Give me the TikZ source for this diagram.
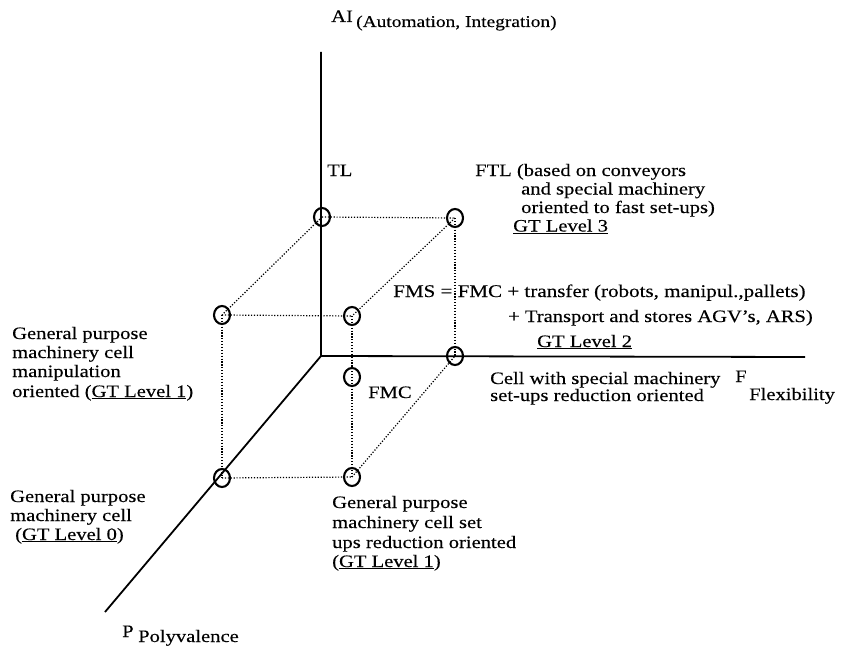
\documentclass[tikz,border=0pt]{standalone}
\usepackage{fontspec}
\setmainfont{Liberation Serif}[FakeStretch=1.18,FakeBold=0.25]
\usetikzlibrary{shapes.geometric}
\newcommand\fsz{\fontsize{17.5}{19.5}\selectfont}
\newcommand\fszbig{\fontsize{17.9}{20}\selectfont}
\begin{document}
\begin{tikzpicture}[x=1bp,y=-1bp,
  axis/.style={line width=1.8bp},
  dots/.style={line width=1.2bp, dash pattern=on 1.2bp off 1.7bp},
  ring/.style={draw, ellipse, minimum width=16bp, minimum height=18bp, line width=2.1bp, inner sep=0pt},
  lbl/.style={inner sep=0pt, anchor=base west, font=\fsz}]
\useasboundingbox (0,0) rectangle (854,650);
% axes
\coordinate (o) at (321,356);
\coordinate (ytop) at (321,52);
\coordinate (xend) at (805,357);
\coordinate (pend) at (105,612);
\draw[axis] (ytop) -- (o) -- (xend);
\draw[axis] (o) -- (pend);
% rings
\node[ring] (tl) at (322,217) {};
\node[ring] (ftl) at (455,218) {};
\node[ring] (lm) at (222,315) {};
\node[ring] (m) at (352,316) {};
\node[ring] (fa) at (455,356) {};
\node[ring] (fmc) at (352,377) {};
\node[ring] (bl) at (222,478) {};
\node[ring] (bm) at (352,477) {};
% dotted cube
\draw[dots] (tl.center) -- (ftl.center);
\draw[dots] (tl.center) -- (lm.center);
\draw[dots] (ftl.center) -- (m.center);
\draw[dots] (ftl.center) -- (fa.center);
\draw[dots] (lm.center) -- (m.center);
\draw[dots] (lm.center) -- (bl.center);
\draw[dots] (m.center) -- (fmc.center);
\draw[dots] (fmc.center) -- (bm.center);
\draw[dots] (bl.center) -- (bm.center);
\draw[dots] (bm.center) -- (fa.center);
% axis labels
\node[lbl] (ai) at (331,22) {AI};
\node[lbl,font=\fontsize{16.5}{18}\selectfont] (aut) at (356,27) {(Automation, Integration)};
\node[lbl] (f) at (735,382) {F};
\node[lbl] (flex) at (749,400) {Flexibility};
\node[lbl] (p) at (122,637) {P};
\node[lbl] (poly) at (138,642) {Polyvalence};
% labels
\node[lbl] (tllbl) at (327,176) {TL};
\node[lbl] (ftl1) at (475,176) {FTL (based on conveyors};
\node[lbl] (ftl2) at (521,194.5) {and special machinery};
\node[lbl] (ftl3) at (521,213) {oriented to fast set-ups)};
\node[lbl] (ftl4) at (513,231.5) {\underline{GT Level 3}};
\node[lbl,font=\fszbig] (fms1) at (393,297) {FMS = FMC + transfer (robots, manipul.,pallets)};
\node[lbl] (fms2) at (508,322) {+ Transport and stores AGV's, ARS)};
\node[lbl] (fms3) at (537,347) {\underline{GT Level 2}};
\node[lbl] (fmclbl) at (368,398) {FMC};
\node[lbl] (c1) at (490,384) {Cell with special machinery};
\node[lbl] (c2) at (490,401) {set-ups reduction oriented};
\node[lbl] (a1) at (12,339) {General purpose};
\node[lbl] (a2) at (12,358) {machinery cell};
\node[lbl] (a3) at (12,377) {manipulation};
\node[lbl] (a4) at (12,397) {oriented (\underline{GT Level 1})};
\node[lbl] (b1) at (10,502) {General purpose};
\node[lbl] (b2) at (10,521) {machinery cell};
\node[lbl] (b3) at (15,540) {(\underline{GT Level 0})};
\node[lbl] (d1) at (332,508) {General purpose};
\node[lbl] (d2) at (332,528) {machinery cell set};
\node[lbl] (d3) at (332,548) {ups reduction oriented};
\node[lbl] (d4) at (332,567) {(\underline{GT Level 1})};
\end{tikzpicture}
\end{document}
